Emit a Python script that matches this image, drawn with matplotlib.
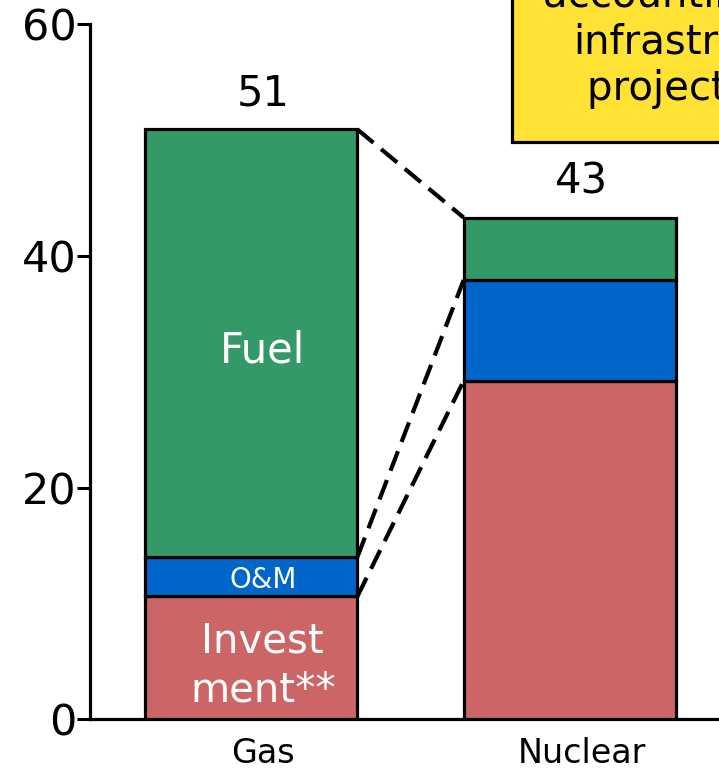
import matplotlib
matplotlib.use("Agg")
import matplotlib.pyplot as plt
from matplotlib.patches import Rectangle
import numpy as np

categories = ["Gas", "Nuclear"]
investment = [10.6, 29.2]
om = [3.4, 8.7]
fuel = [36.9, 5.4]
totals_label = ["51", "43"]
yticks = [0, 20, 40, 60]

c_inv = "#CC6666"
c_om = "#0066CC"
c_fuel = "#339966"
c_box = "#FFE233"

W, H = 719, 770
fig = plt.figure(figsize=(W / 100, H / 100), dpi=100)
ax = fig.add_axes([90 / W, 1 - 719.3 / H, 629 / W, (719.3 - 24) / H])

x = np.arange(len(categories))
bw = 0.667
inv = np.array(investment)
omv = np.array(om)
fu = np.array(fuel)
ek = dict(edgecolor="black", linewidth=2.3, zorder=3)
ax.bar(x, inv, bw, color=c_inv, **ek)
ax.bar(x, omv, bw, bottom=inv, color=c_om, **ek)
ax.bar(x, fu, bw, bottom=inv + omv, color=c_fuel, **ek)

# connector dashed lines
for lvl in [inv, inv + omv, inv + omv + fu]:
    ax.plot([x[0] + bw / 2, x[1] - bw / 2], [lvl[0], lvl[1]], color="black",
            lw=3, dashes=(5, 2.4), zorder=2, solid_capstyle="butt")

off = 0.037
tot = inv + omv + fu
for i in range(len(categories)):
    ax.annotate(totals_label[i], (x[i] + off, tot[i]), xytext=(0, 11),
                textcoords="offset points", ha="center", va="bottom",
                fontsize=30, color="black")

ax.text(x[0] + off, (719.3 - 362) / 11.59, "Fuel", ha="center", va="baseline", fontsize=30, color="white")
ax.text(x[0] + off, (719.3 - 588) / 11.59, "O&M", ha="center", va="baseline", fontsize=20, color="white")
ax.text(x[0] + off, (719.3 - 701) / 11.59, "Invest\nment**", ha="center", va="baseline",
        fontsize=29, color="white", linespacing=1.27)

ax.set_xlim((90 - 251) / 319, (719 - 251) / 319)
ax.set_ylim(0, 60)
ax.set_yticks(yticks)
ax.set_xticks(x + off, categories)
ax.tick_params(axis="y", length=9.5, width=2.2, pad=0, labelsize=31)
ax.tick_params(axis="x", length=0, pad=13, labelsize=24)
for s in ["top", "right"]:
    ax.spines[s].set_visible(False)
for s in ["left", "bottom"]:
    ax.spines[s].set_linewidth(2.3)

# yellow note box (cut off at figure edge, as in the reference)
fig.patches.append(Rectangle((512 / W, 1 - 141.7 / H), 0.5, 0.3, transform=fig.transFigure,
                             facecolor=c_box, edgecolor="black", linewidth=2.3, zorder=5))
box_lines = ["accounting for", "infrastructure", "project costs"]
box_x = [543, 573, 587]
box_y = [7, 53, 100]
for t, bx, by in zip(box_lines, box_x, box_y):
    fig.text(bx / W, 1 - by / H, t, ha="left", va="baseline", fontsize=29, color="black", zorder=6)

fig.savefig("out.png", dpi=100)
